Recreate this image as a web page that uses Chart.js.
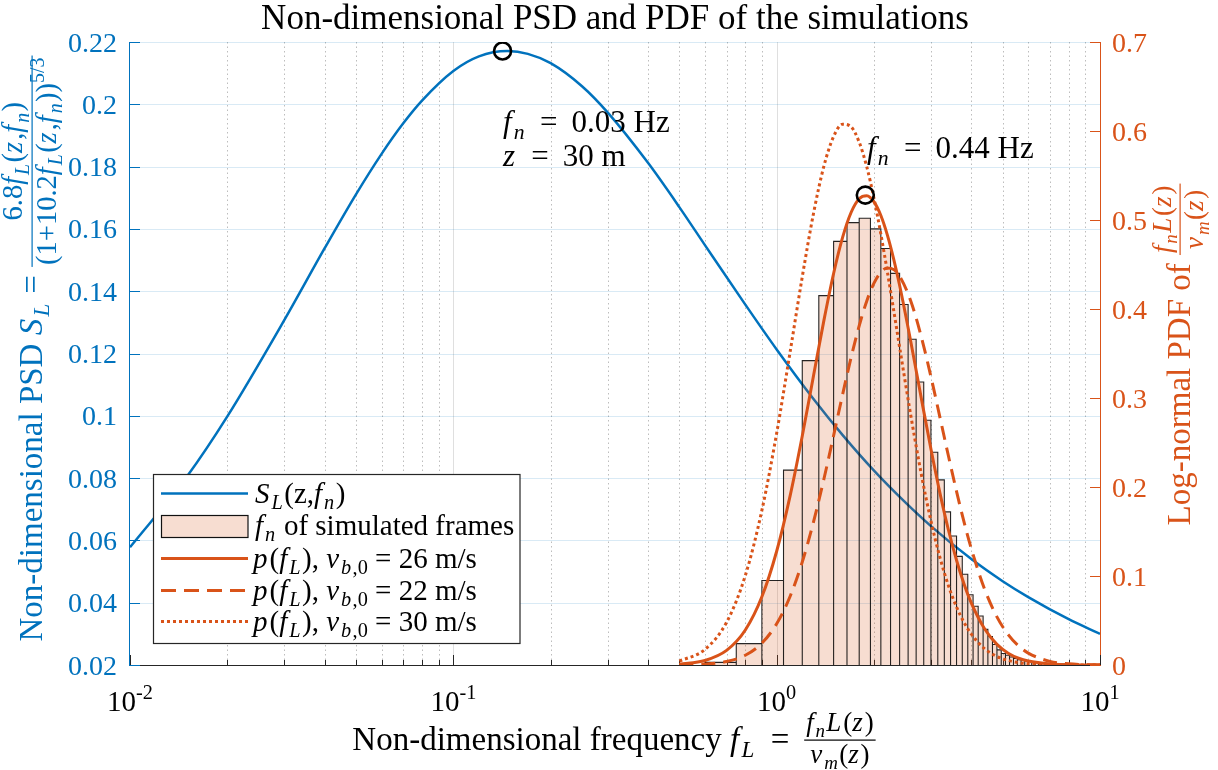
<!DOCTYPE html>
<html>
<head>
<meta charset="utf-8">
<title>Non-dimensional PSD and PDF of the simulations</title>
<script src="https://cdn.jsdelivr.net/npm/chart.js@4.4.1/dist/chart.umd.min.js"></script>
<style>
  html, body { margin: 0; padding: 0; background: #ffffff; }
  #wrap { position: relative; width: 1218px; height: 770px; }
</style>
</head>
<body>
<div id="wrap"><canvas id="psd-chart" width="1218" height="770"></canvas></div>
<script>
// ---- values ----

// blue PSD curve S_L(z, f_n) against f_L
var psdF = [0.01, 0.015, 0.02, 0.03, 0.04, 0.05, 0.06, 0.07, 0.08, 0.1, 0.12, 0.147, 0.17, 0.2, 0.25, 0.3,
            0.4, 0.5, 0.6, 0.8, 1.0, 1.3, 1.6, 2.0, 2.5, 3.0, 4.0, 5.0, 6.0, 8.0, 10];
var psdS = [0.0578, 0.0805, 0.0998, 0.1307, 0.1538, 0.1711, 0.1841, 0.1939, 0.2012, 0.2107, 0.2154, 0.2171, 0.2162, 0.2132, 0.2058, 0.1974,
            0.1812, 0.1670, 0.1548, 0.1357, 0.1213, 0.1054, 0.0938, 0.0824, 0.0722, 0.0646, 0.0540, 0.0469, 0.0418, 0.0347, 0.0300];

// log-normal pdf curves (right axis), one f_L grid for the three wind speeds
var pdfF  = [0.5, 0.6, 0.7, 0.8, 0.9, 1.0, 1.1, 1.2, 1.3, 1.4, 1.5, 1.6, 1.7, 1.8, 1.9, 2.0, 2.1, 2.2, 2.3, 2.4,
             2.6, 2.8, 3.0, 3.2, 3.4, 3.6, 3.8, 4.0, 4.4, 4.8, 5.2, 5.6, 6.0, 7.0, 8.0, 9.0, 10];
var pdf26 = [0.0010, 0.0051, 0.0164, 0.0393, 0.0766, 0.1278, 0.1898, 0.2574, 0.3250, 0.3872, 0.4399, 0.4807, 0.5087, 0.5239, 0.5272, 0.5203, 0.5050, 0.4830, 0.4564, 0.4267,
             0.3630, 0.3000, 0.2427, 0.1929, 0.1514, 0.1177, 0.0907, 0.0695, 0.0404, 0.0232, 0.0133, 0.0076, 0.0044, 0.0011, 0.0003, 0.0001, 0.0000];
var pdf22 = [0.0002, 0.0010, 0.0039, 0.0109, 0.0245, 0.0463, 0.0770, 0.1158, 0.1607, 0.2090, 0.2578, 0.3042, 0.3459, 0.3812, 0.4091, 0.4290, 0.4413, 0.4461, 0.4444, 0.4370,
             0.4088, 0.3690, 0.3239, 0.2780, 0.2345, 0.1950, 0.1603, 0.1306, 0.0849, 0.0541, 0.0341, 0.0214, 0.0134, 0.0041, 0.0013, 0.0004, 0.0001];
var pdf30 = [0.0043, 0.0175, 0.0480, 0.1006, 0.1737, 0.2605, 0.3513, 0.4361, 0.5074, 0.5606, 0.5938, 0.6077, 0.6046, 0.5874, 0.5596, 0.5242, 0.4842, 0.4417, 0.3990, 0.3572,
             0.2801, 0.2147, 0.1619, 0.1205, 0.0889, 0.0652, 0.0476, 0.0346, 0.0182, 0.0096, 0.0051, 0.0027, 0.0015, 0.0003, 0.0001, 0.0000, 0.0000];

// histogram of the simulated frames (right axis): bin edges and bar heights
var histEdges = [0.60, 0.75, 0.90, 1.05, 1.20, 1.35, 1.50, 1.65, 1.80, 1.95, 2.10, 2.25, 2.40, 2.55, 2.70, 2.85,
                 3.00, 3.15, 3.30, 3.45, 3.60, 3.75, 3.90, 4.05, 4.20, 4.35, 4.50, 4.65, 4.80, 4.95, 5.10, 5.25,
                 5.40, 5.55, 5.70, 5.85, 6.00, 6.15, 6.30, 6.45, 6.60, 6.75, 6.90, 7.05, 7.20, 7.35, 7.50, 7.65,
                 7.80, 7.95, 8.10, 8.25, 8.40, 8.55, 8.70, 8.85, 9.00, 9.15, 9.30, 9.45, 9.60, 9.75, 9.90];
var histHeights = [0.003, 0.024, 0.095, 0.219, 0.342, 0.415, 0.476, 0.497, 0.502, 0.490, 0.468, 0.440, 0.405, 0.366, 0.318,
                   0.275, 0.239, 0.208, 0.172, 0.145, 0.122, 0.102, 0.079, 0.066, 0.055, 0.040, 0.032, 0.023, 0.017, 0.013,
                   0.011, 0.009, 0.0075, 0.006, 0.005, 0.0045, 0.004, 0.0035, 0.003, 0.0026, 0.0023, 0.002, 0.0018, 0.0016,
                   0.0014, 0.0012, 0.0011, 0.001, 0.0009, 0.0008, 0.0007, 0.0006, 0.0006, 0.0005, 0.0005, 0.0004, 0.0004,
                   0.0003, 0.0003, 0.0003, 0.0002, 0.0002];

// circled peaks
var peakPsd = [0.142, 0.2171];
var peakPdf = [1.88, 0.528];

// axis ticks
var xDecades   = [0.01, 0.1, 1, 10];
var xDecadeExp = ['-2', '-1', '0', '1'];
var xMinorMult = [2, 3, 4, 5, 6, 7, 8, 9];
var leftTicks  = [0.02, 0.04, 0.06, 0.08, 0.1, 0.12, 0.14, 0.16, 0.18, 0.2, 0.22];
var leftLabels = ['0.02', '0.04', '0.06', '0.08', '0.1', '0.12', '0.14', '0.16', '0.18', '0.2', '0.22'];
var rightTicks  = [0, 0.1, 0.2, 0.3, 0.4, 0.5, 0.6, 0.7];
var rightLabels = ['0', '0.1', '0.2', '0.3', '0.4', '0.5', '0.6', '0.7'];

var BLUE = '#0072BD', ORANGE = '#D95319', INK = '#262626', HISTFILL = 'rgba(217,83,25,0.2)';
var SERIF = '"Liberation Serif", "Times New Roman", serif';
var EQ = ' \u2009=\u2009 ';   // math-style spacing round "="

function toXY(xs, ys) {
	var out = [];
	for (var i = 0; i < xs.length; i++) {out.push({x: xs[i], y: ys[i]});}
	return out;
}

// histogram outline as one closed step path down to zero
var histPoints = [];
for (var b = 0; b < histHeights.length; b++) {
	histPoints.push({x: histEdges[b], y: 0}, {x: histEdges[b], y: histHeights[b]},
	                {x: histEdges[b + 1], y: histHeights[b]}, {x: histEdges[b + 1], y: 0});
}

// ---- small text helpers (italic / sub / superscript runs, fractions) ----
function rich(ctx, toks, x, y, size, draw) {
	var cx = x;
	for (var i = 0; i < toks.length; i++) {
		var t = toks[i], f = t[1] || '', s = size, dy = 0, it = f.indexOf('i') >= 0;
		if (f.indexOf('b') >= 0) {s = size * 0.7; dy = size * 0.22;}
		if (f.indexOf('p') >= 0) {s = size * 0.7; dy = -size * 0.42;}
		ctx.font = (it ? 'italic ' : '') + s.toFixed(1) + 'px ' + SERIF;
		if (draw) {ctx.fillText(t[0], cx, y + dy);}
		cx += ctx.measureText(t[0]).width + (it ? s * 0.07 : 0);
	}
	return cx - x;
}

function seq(ctx, parts, x, y, axisSize, draw) {
	var cx = x;
	parts.forEach(function(p) {
		if (p.n) {
			var wn = rich(ctx, p.n, 0, 0, p.s, false), wd = rich(ctx, p.d, 0, 0, p.s, false);
			var w = Math.max(wn, wd) + 4;
			if (draw) {
				var bar = y - axisSize * 0.3;
				rich(ctx, p.n, cx + (w - wn) / 2, bar - p.s * 0.34, p.s, true);
				rich(ctx, p.d, cx + (w - wd) / 2, bar + p.s * 0.84, p.s, true);
				ctx.fillRect(cx, bar - 0.6, w, 1.2);
			}
			cx += w + 2;
		}
		else {
			cx += rich(ctx, p.t, cx, y, p.s, draw);
		}
	});
	return cx - x;
}

function seqCentered(ctx, parts, cx, y, axisSize) {
	var w = seq(ctx, parts, 0, 0, axisSize, false);
	seq(ctx, parts, cx - w / 2, y, axisSize, true);
}

function hline(ctx, x0, y0, x1, y1) {ctx.beginPath(); ctx.moveTo(x0, y0); ctx.lineTo(x1, y1); ctx.stroke();}

var fracFL = {n: [['f', 'i'], ['n', 'ib'], ['L', 'i'], ['('], ['z', 'i'], [')']],
              d: [['v', 'i'], ['m', 'ib'], ['('], ['z', 'i'], [')']], s: 27};

var xTitle = [{t: [['Non-dimensional frequency ']], s: 33}, {t: [['f', 'i'], ['L', 'ib'], [EQ]], s: 33}, fracFL];
var leftTitle = [{t: [['Non-dimensional PSD ']], s: 33}, {t: [['S', 'i'], ['L', 'ib'], [' = ']], s: 33},
	{n: [['6.8'], ['f', 'i'], ['L', 'ib'], ['('], ['z', 'i'], [','], ['f', 'i'], ['n', 'ib'], [')']],
	 d: [['(1+10.2'], ['f', 'i'], ['L', 'ib'], ['('], ['z', 'i'], [','], ['f', 'i'], ['n', 'ib'], ['))'], ['5/3', 'p']], s: 28.5}];
var rightTitle = [{t: [['Log-normal PDF of ']], s: 33}, fracFL];

function legendRow(ctx, y, color, dash) {
	ctx.strokeStyle = color; ctx.lineWidth = 3; ctx.setLineDash(dash);
	hline(ctx, 161, y, 248, y);
	ctx.setLineDash([]);
}

var decor = {
	id: 'decor',
	beforeDatasetsDraw: function(chart) {
		var ctx = chart.ctx, a = chart.chartArea;
		var sx = chart.scales.x, sy = chart.scales.y, sr = chart.scales.y2;
		ctx.save();
		ctx.lineWidth = 1;

		// minor x grid, dotted
		ctx.strokeStyle = 'rgba(38,38,38,0.3)';
		ctx.setLineDash([1.5, 3]);
		xDecades.slice(0, -1).forEach(function(d) {
			xMinorMult.forEach(function(m) {
				var px = Math.round(sx.getPixelForValue(d * m)) + 0.5;
				hline(ctx, px, a.top, px, a.bottom);
			});
		});
		ctx.setLineDash([]);

		// major x grid
		ctx.strokeStyle = 'rgba(38,38,38,0.15)';
		xDecades.forEach(function(d) {
			var px = Math.round(sx.getPixelForValue(d)) + 0.5;
			if (px > a.left + 2 && px < a.right - 2) {hline(ctx, px, a.top, px, a.bottom);}
		});

		// y grid follows the left axis
		ctx.strokeStyle = 'rgba(0,114,189,0.15)';
		leftTicks.forEach(function(v) {
			var py = Math.round(sy.getPixelForValue(v)) + 0.5;
			if (py < a.bottom - 2) {hline(ctx, a.left, py, a.right, py);}
		});

		// axis lines
		ctx.strokeStyle = INK;
		hline(ctx, a.left - 0.5, a.bottom + 0.5, a.right + 0.5, a.bottom + 0.5);
		ctx.strokeStyle = BLUE;
		hline(ctx, a.left - 0.5, a.top, a.left - 0.5, a.bottom + 1);
		ctx.strokeStyle = ORANGE;
		hline(ctx, a.right + 0.5, a.top, a.right + 0.5, a.bottom + 1);

		// inward ticks
		ctx.strokeStyle = INK;
		xDecades.forEach(function(d, k) {
			var px = Math.round(sx.getPixelForValue(d)) + 0.5;
			hline(ctx, px, a.bottom, px, a.bottom - 10);
			if (k < xDecades.length - 1) {
				xMinorMult.forEach(function(m) {
					var qx = Math.round(sx.getPixelForValue(d * m)) + 0.5;
					hline(ctx, qx, a.bottom, qx, a.bottom - 5);
				});
			}
		});
		ctx.strokeStyle = BLUE;
		leftTicks.forEach(function(v) {
			var py = Math.round(sy.getPixelForValue(v)) + 0.5;
			hline(ctx, a.left, py, a.left + 10, py);
		});
		ctx.strokeStyle = ORANGE;
		rightTicks.forEach(function(v) {
			var py = Math.round(sr.getPixelForValue(v)) + 0.5;
			hline(ctx, a.right - 10, py, a.right, py);
		});
		ctx.restore();
	},

	afterDatasetsDraw: function(chart) {
		var ctx = chart.ctx, a = chart.chartArea;
		var sx = chart.scales.x, sy = chart.scales.y, sr = chart.scales.y2;
		ctx.save();
		ctx.textAlign = 'left';
		ctx.textBaseline = 'alphabetic';

		// legend
		ctx.fillStyle = '#ffffff';
		ctx.fillRect(153.5, 474.5, 366.5, 169);
		ctx.strokeStyle = INK; ctx.lineWidth = 1.2;
		ctx.strokeRect(153.5, 474.5, 366.5, 169);
		ctx.strokeStyle = BLUE; ctx.lineWidth = 2.5;
		hline(ctx, 161, 493.5, 248, 493.5);
		ctx.fillStyle = HISTFILL; ctx.fillRect(161.5, 515.5, 86.5, 22);
		ctx.strokeStyle = '#111'; ctx.lineWidth = 1.2; ctx.strokeRect(161.5, 515.5, 86.5, 22);
		legendRow(ctx, 558.5, ORANGE, []);
		legendRow(ctx, 590.5, ORANGE, [15, 8]);
		legendRow(ctx, 621.5, ORANGE, [3, 3]);
		ctx.fillStyle = '#000';
		rich(ctx, [['S', 'i'], ['L', 'ib'], ['(z,'], ['f', 'i'], ['n', 'ib'], [')']], 255, 503, 29, true);
		rich(ctx, [['f', 'i'], ['n', 'ib'], [' of simulated frames']], 255, 535, 29, true);
		[['26', 568], ['22', 600], ['30', 631]].forEach(function(r) {
			rich(ctx, [['p', 'i'], ['('], ['f', 'i'], ['L', 'ib'], ['), '], ['v', 'i'], ['b', 'ib'], [',0', 'b'],
			           [' = ' + r[0] + ' m/s']], 253, r[1], 29, true);
		});

		// annotations next to the peaks
		rich(ctx, [['f', 'i'], ['n', 'ib'], [EQ + '0.03 Hz']], 503, 132, 31, true);
		rich(ctx, [['z', 'i'], [EQ + '30 m']], 503, 166, 31, true);
		rich(ctx, [['f', 'i'], ['n', 'ib'], [EQ + '0.44 Hz']], 867, 158, 31, true);

		// x tick labels 10^k
		xDecades.forEach(function(d, k) {
			var toks = [['10'], [xDecadeExp[k], 'p']];
			var w = rich(ctx, toks, 0, 0, 29, false);
			rich(ctx, toks, sx.getPixelForValue(d) - w / 2, 711, 29, true);
		});

		// y tick labels
		ctx.font = '28px ' + SERIF;
		ctx.fillStyle = BLUE; ctx.textAlign = 'right';
		leftTicks.forEach(function(v, i) {ctx.fillText(leftLabels[i], 117, sy.getPixelForValue(v) + 9.5);});
		ctx.fillStyle = ORANGE; ctx.textAlign = 'left';
		rightTicks.forEach(function(v, i) {ctx.fillText(rightLabels[i], 1112, sr.getPixelForValue(v) + 9.5);});

		// axis titles
		var midX = (a.left + a.right) / 2, midY = (a.top + a.bottom) / 2;
		ctx.fillStyle = '#000';
		seqCentered(ctx, xTitle, midX, 750, 33);
		ctx.fillStyle = BLUE;
		ctx.save(); ctx.translate(42, midY - 6); ctx.rotate(-Math.PI / 2);
		seqCentered(ctx, leftTitle, 0, 0, 33);
		ctx.restore();
		ctx.fillStyle = ORANGE;
		ctx.save(); ctx.translate(1190, midY); ctx.rotate(-Math.PI / 2);
		seqCentered(ctx, rightTitle, 0, 0, 33);
		ctx.restore();

		// title
		ctx.fillStyle = '#000';
		ctx.font = '35px ' + SERIF; ctx.textAlign = 'center';
		ctx.fillText('Non-dimensional PSD and PDF of the simulations', midX, 29);
		ctx.restore();
	}
};

var chart = new Chart(document.getElementById('psd-chart').getContext('2d'), {
	type: 'line',
	data: {
		datasets: [
			{label: 'S_L(z,f_n)', data: toXY(psdF, psdS), yAxisID: 'y', borderColor: BLUE, borderWidth: 2.5,
			 pointRadius: 0, cubicInterpolationMode: 'monotone', fill: false, order: 6},
			{label: 'f_n of simulated frames', data: histPoints, yAxisID: 'y2', borderColor: 'rgba(0,0,0,0.85)',
			 borderWidth: 1.1, backgroundColor: HISTFILL, fill: 'origin', pointRadius: 0, tension: 0, order: 5},
			{label: 'p(f_L), v_b0 = 22 m/s', data: toXY(pdfF, pdf22), yAxisID: 'y2', borderColor: ORANGE, borderWidth: 3,
			 borderDash: [14, 8], pointRadius: 0, cubicInterpolationMode: 'monotone', fill: false, order: 4},
			{label: 'p(f_L), v_b0 = 30 m/s', data: toXY(pdfF, pdf30), yAxisID: 'y2', borderColor: ORANGE, borderWidth: 3,
			 borderDash: [3, 3], pointRadius: 0, cubicInterpolationMode: 'monotone', fill: false, order: 3},
			{label: 'p(f_L), v_b0 = 26 m/s', data: toXY(pdfF, pdf26), yAxisID: 'y2', borderColor: ORANGE, borderWidth: 3,
			 pointRadius: 0, cubicInterpolationMode: 'monotone', fill: false, order: 2},
			{label: 'PSD peak', data: [{x: peakPsd[0], y: peakPsd[1]}], yAxisID: 'y', showLine: false,
			 pointRadius: 8.5, pointBorderWidth: 2.6, pointBorderColor: '#000', pointBackgroundColor: 'rgba(0,0,0,0)', order: 1},
			{label: 'PDF peak', data: [{x: peakPdf[0], y: peakPdf[1]}], yAxisID: 'y2', showLine: false,
			 pointRadius: 8.5, pointBorderWidth: 2.6, pointBorderColor: '#000', pointBackgroundColor: 'rgba(0,0,0,0)', order: 1}
		]
	},
	options: {
		responsive: false,
		animation: false,
		devicePixelRatio: 1,
		events: [],
		layout: {padding: {left: 130, right: 118, top: 42, bottom: 105}},
		scales: {
			x:  {type: 'logarithmic', min: 0.01, max: 10, display: false},
			y:  {type: 'linear', position: 'left', min: 0.02, max: 0.22, display: false},
			y2: {type: 'linear', position: 'right', min: 0, max: 0.7, display: false}
		},
		plugins: {legend: {display: false}, title: {display: false}, tooltip: {enabled: false}}
	},
	plugins: [decor]
});
</script>
</body>
</html>
